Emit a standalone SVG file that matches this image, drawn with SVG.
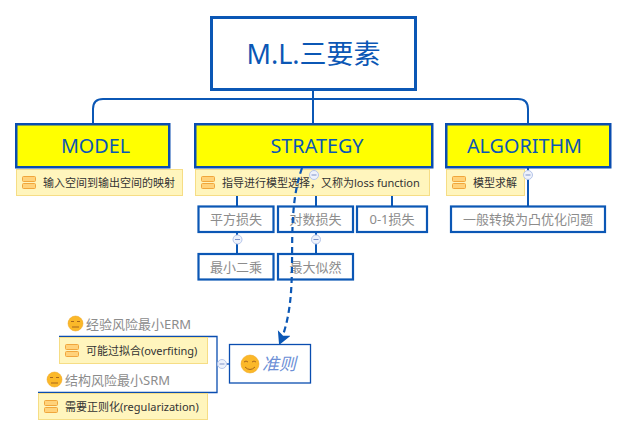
<svg xmlns="http://www.w3.org/2000/svg" width="627" height="436" viewBox="0 0 627 436">
<style>
text{font-family:"Noto Sans","Noto Sans CJK SC",sans-serif}
.conn{fill:none;stroke:#0b57b5;stroke-width:2}
.main{fill:#ff0;stroke:#0a4db0;stroke-width:2.5}
.mt{fill:#0b57b5;font-size:19.800px;text-anchor:middle}
.child{fill:#fff;stroke:#0b57b5;stroke-width:2.2}
.ct{fill:#8c8c8c;font-size:13px;text-anchor:middle}
.note{fill:#fff5bd;stroke:#f6dd85;stroke-width:1}
.nt{fill:#333;font-size:11px}
.ib{fill:#ffd27a;stroke:#f0a63c;stroke-width:1}
.col{fill:#eef2fb;stroke:#b5c5ea;stroke-width:1}
.cm{stroke:#7f93c8;stroke-width:1;fill:none}
.face{fill:#fbb829;stroke:#eea21b;stroke-width:.5}
.fl{fill:none;stroke:#a8671c;stroke-width:1}
.risk{fill:#8c8c8c;font-size:13px}
.thin{fill:none;stroke:#0a4db0;stroke-width:1.3}
</style>
<defs>
<g id="ic"><rect class="ib" x="0" y="0" width="13" height="5" rx="1"/><rect class="ib" x="0" y="7" width="13" height="5" rx="1"/></g>
<g id="cl"><circle class="col" r="4.5"/><path class="cm" d="M-2.500 0H2.500"/></g>
<marker id="arr" markerUnits="userSpaceOnUse" markerWidth="16" markerHeight="16" refX="12" refY="7" orient="auto"><path d="M0 0L13 7L0 14L3 7Z" fill="#0b57b5"/></marker>
</defs>
<g id="connectors">
<path class="conn" d="M93 123V109Q93 99 103 99H518Q528 99 528 109V123"/>
<path class="conn" d="M313 91V123"/>
<path class="conn" d="M237 195V206M316 195V206M392 195V206M528 168V206M237 232V253M316 232V253"/>
<path class="thin" d="M59 336.500H217V392.500H38"/>
<path class="thin" d="M217 364H229"/>
</g>
<g id="root"><rect x="211.500" y="17.500" width="204" height="72" fill="#fff" stroke="#0b57b5" stroke-width="3"/><text x="313.500" y="64" fill="#0b57b5" font-size="27" text-anchor="middle">M.L.三要素</text></g>
<g id="model"><rect class="main" x="16.250" y="124.250" width="153" height="43"/><text class="mt" x="95.500" y="153">MODEL</text></g>
<g id="strategy"><rect class="main" x="195.250" y="124.250" width="237" height="43"/><text class="mt" x="317" y="153">STRATEGY</text></g>
<g id="algorithm"><rect class="main" x="446.250" y="124.250" width="164" height="43"/><text class="mt" x="524.500" y="153">ALGORITHM</text></g>
<g id="note-model"><rect class="note" x="16.500" y="169.500" width="166" height="26"/><use href="#ic" x="22.500" y="176.500"/><text class="nt" x="43" y="187">输入空间到输出空间的映射</text></g>
<g id="note-strategy"><rect class="note" x="195.500" y="169.500" width="234" height="26"/><use href="#ic" x="201.500" y="176.500"/><text class="nt" x="222" y="187">指导进行模型选择，又称为loss function</text></g>
<g id="note-algorithm"><rect class="note" x="446.500" y="169.500" width="78" height="26"/><use href="#ic" x="452.500" y="176.500"/><text class="nt" x="473" y="187">模型求解</text></g>
<g id="c1"><rect class="child" x="198.500" y="206.500" width="75" height="25.500"/><text class="ct" x="236" y="224">平方损失</text></g>
<g id="c2"><rect class="child" x="278" y="206.500" width="75" height="25.500"/><text class="ct" x="315.500" y="224">对数损失</text></g>
<g id="c3"><rect class="child" x="357" y="206.500" width="70" height="25.500"/><text class="ct" x="392" y="224">0-1损失</text></g>
<g id="c4"><rect class="child" x="451" y="206.500" width="154" height="25.500"/><text class="ct" x="528" y="224">一般转换为凸优化问题</text></g>
<g id="c5"><rect class="child" x="198.500" y="254" width="75" height="25.500"/><text class="ct" x="236" y="272">最小二乘</text></g>
<g id="c6"><rect class="child" x="278" y="254" width="75" height="25.500"/><text class="ct" x="315.500" y="272">最大似然</text></g>
<g id="collapsers"><use href="#cl" x="314" y="175"/><use href="#cl" x="528" y="175"/><use href="#cl" x="237.500" y="239.500"/><use href="#cl" x="316" y="239.500"/><use href="#cl" x="222" y="364"/></g>
<g id="risk1"><circle class="face" cx="75.500" cy="323.500" r="7.500"/><path class="fl" d="M71 321.500h3M77 321.500h3M72 327h7"/><text class="risk" x="86" y="329">经验风险最小ERM</text></g>
<g id="note-over"><rect class="note" x="59.500" y="337.500" width="148" height="26"/><use href="#ic" x="65.500" y="344.500"/><text class="nt" x="86" y="355">可能过拟合(overfiting)</text></g>
<g id="risk2"><circle class="face" cx="54.500" cy="379.500" r="7.500"/><path class="fl" d="M50 377.500h3M56 377.500h3M51 383h7"/><text class="risk" x="65" y="385">结构风险最小SRM</text></g>
<g id="note-reg"><rect class="note" x="38.500" y="393.500" width="169" height="26"/><use href="#ic" x="44.500" y="400.500"/><text class="nt" x="65" y="411">需要正则化(regularization)</text></g>
<g id="criterion"><rect x="229.500" y="344.500" width="81" height="38.500" fill="#fff" stroke="#0a4db0" stroke-width="1.300"/><circle class="face" cx="250" cy="364" r="9"/><path class="fl" d="M244 362q2-2 4 0M252 362q2-2 4 0M245 367q5 5 10 0"/><text x="262" y="370" fill="#6c8fd6" font-size="17" font-style="italic">准则</text></g>
<g id="dashed"><path d="M302 168C282 225 303 290 279.500 344" fill="none" stroke="#0b57b5" stroke-width="2.200" stroke-dasharray="6 4" marker-end="url(#arr)"/></g>
</svg>
